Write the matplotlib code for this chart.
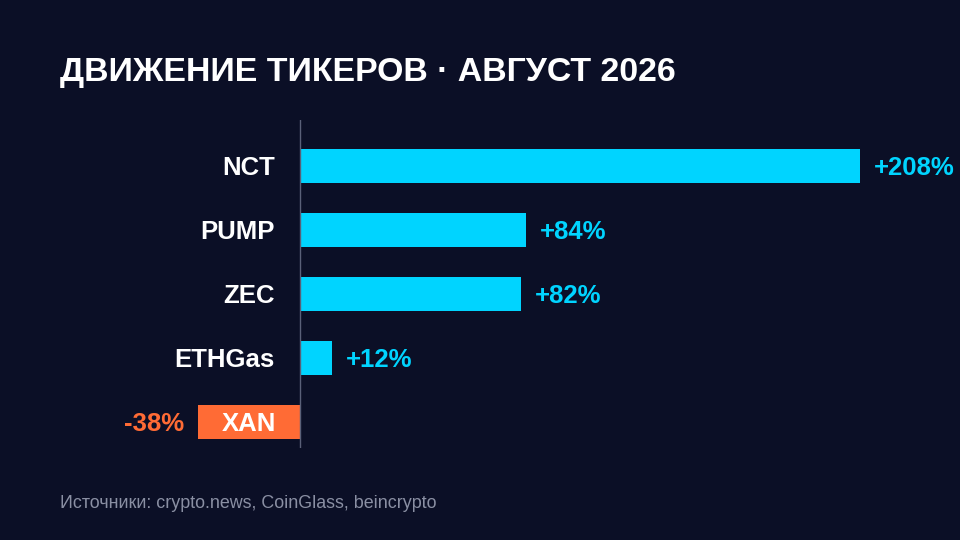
import matplotlib
matplotlib.use("Agg")
import matplotlib.pyplot as plt

plt.rcParams['font.family'] = ['Liberation Sans', 'DejaVu Sans']

tickers = ["NCT", "PUMP", "ZEC", "ETHGas", "XAN"]
changes = [208, 84, 82, 12, -38]

BG = "#0b0f26"
POS = "#00d4ff"
NEG = "#ff6b35"

fig = plt.figure(figsize=(9.6, 5.4), dpi=100, facecolor=BG)
ax = fig.add_axes([140/960, 1-448/540, 800/960, 328/540], facecolor=BG)

ppx = 560/208  # pixels per percent
ax.set_xlim(-160/ppx, 640/ppx)
ax.set_ylim(4.41, -0.72)
dy = 2/64  # nudge text down a little

for i, (t, v) in enumerate(zip(tickers, changes)):
    col = POS if v >= 0 else NEG
    ax.barh(i, v, height=34/64, color=col)
    if v >= 0:
        ax.text(-25/ppx, i + dy, t, ha="right", va="center", color="white",
                fontsize=18.5, fontweight="bold")
        ax.text(v + 14/ppx, i + dy, f"+{v}%", ha="left", va="center", color=col,
                fontsize=18.5, fontweight="bold")
    else:
        ax.text(v/2, i + dy, t, ha="center", va="center", color="white",
                fontsize=18.5, fontweight="bold")
        ax.text(v - 14/ppx, i + dy, f"{v}%", ha="right", va="center", color=col,
                fontsize=18.5, fontweight="bold")

ax.axvline(0, color="#5a6078", lw=1)
ax.axis("off")

fig.text(60/960, 1-72/540, "ДВИЖЕНИЕ ТИКЕРОВ · АВГУСТ 2026", color="white",
         fontsize=24.4, fontweight="bold", va="center", ha="left")
fig.text(60/960, 1-504/540, "Источники: crypto.news, CoinGlass, beincrypto",
         color="#8a8fa3", fontsize=12.9, va="center", ha="left")

fig.savefig("out.png", dpi=100, facecolor=BG)
